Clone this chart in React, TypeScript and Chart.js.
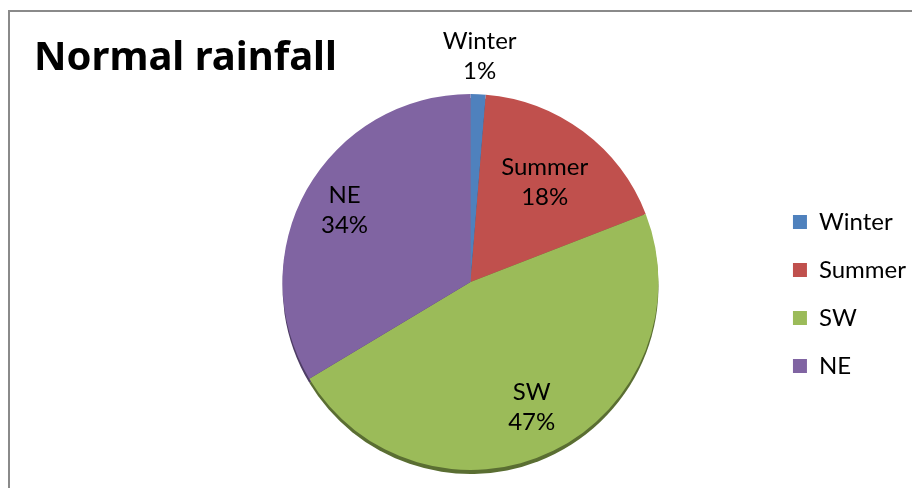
import React, { useEffect, useRef } from "react";
import { Chart, registerables } from "chart.js";

Chart.register(...registerables);

const TITLE = "Normal rainfall";
const categories = ["Winter", "Summer", "SW", "NE"];
const rainfallShare = [1.3, 17.8, 47.3, 33.6];
const sliceColors = ["#4F81BD", "#C0504D", "#9BBB59", "#8064A2"];
const shadowColors = ["#30507a", "#7a302e", "#5a6e32", "#4e3d65"];
const labelRadius = [1.2, 0.66, 0.74, 0.77];
const FONT = "Lato, 'Open Sans', sans-serif";
const TITLE_FONT = "'Noto Sans', 'Open Sans', sans-serif";

export default function App() {
  const ref = useRef<HTMLCanvasElement>(null);

  useEffect(() => {
    document.documentElement.style.overflow = "hidden";
    document.body.style.overflow = "hidden";
    const canvas = ref.current;
    if (!canvas) return;
    const total = rainfallShare.reduce((a, b) => a + b, 0);

    const shadowPlugin = {
      id: "pieShadow",
      beforeDatasetsDraw(chart: any) {
        const meta = chart.getDatasetMeta(0);
        const ctx = chart.ctx;
        ctx.save();
        meta.data.forEach((arc: any, i: number) => {
          const p = arc.getProps(["x", "y", "startAngle", "endAngle", "outerRadius"], true);
          ctx.beginPath();
          ctx.moveTo(p.x, p.y + 4);
          ctx.arc(p.x, p.y + 4, p.outerRadius, p.startAngle, p.endAngle);
          ctx.closePath();
          ctx.fillStyle = shadowColors[i];
          ctx.fill();
        });
        ctx.restore();
      },
    };

    const labelPlugin = {
      id: "sliceLabels",
      afterDatasetsDraw(chart: any) {
        const meta = chart.getDatasetMeta(0);
        const ctx = chart.ctx;
        ctx.save();
        ctx.font = `24px ${FONT}`;
        ctx.fillStyle = "#000";
        ctx.textAlign = "center";
        ctx.textBaseline = "middle";
        meta.data.forEach((arc: any, i: number) => {
          const p = arc.getProps(["x", "y", "startAngle", "endAngle", "outerRadius"], true);
          const mid = (p.startAngle + p.endAngle) / 2;
          const r = p.outerRadius * labelRadius[i];
          const px = p.x + Math.cos(mid) * r;
          const py = p.y + Math.sin(mid) * r;
          const pct = Math.round((rainfallShare[i] / total) * 100);
          ctx.fillText(categories[i], px, py - 15);
          ctx.fillText(`${pct}%`, px, py + 15);
        });
        ctx.restore();
      },
    };

    const titlePlugin = {
      id: "leftTitle",
      afterDraw(chart: any) {
        const ctx = chart.ctx;
        ctx.save();
        ctx.font = `bold 40px ${TITLE_FONT}`;
        ctx.fillStyle = "#000";
        ctx.textAlign = "left";
        ctx.textBaseline = "alphabetic";
        ctx.fillText(TITLE, 24, 58);
        ctx.restore();
      },
    };

    const chart = new Chart(canvas, {
      type: "pie",
      data: {
        labels: categories,
        datasets: [
          {
            data: rainfallShare,
            backgroundColor: sliceColors,
            borderWidth: 0,
            hoverOffset: 0,
          },
        ],
      },
      options: {
        responsive: false,
        maintainAspectRatio: false,
        animation: false,
        events: [],
        layout: { padding: { left: 162, top: 82, right: 4, bottom: 18 } },
        plugins: {
          tooltip: { enabled: false },
          title: { display: false },
          legend: {
            display: true,
            position: "right",
            fullSize: false,
            align: "center",
            title: { display: true, text: " ", font: { size: 20, lineHeight: 1.2 }, padding: 0 },
            labels: {
              boxWidth: 14,
              boxHeight: 14,
              padding: 24,
              color: "#000",
              font: { family: FONT, size: 24 },
            },
          },
        },
      },
      plugins: [shadowPlugin, labelPlugin, titlePlugin],
    });
    return () => chart.destroy();
  }, []);

  return (
    <div
      style={{
        marginTop: 2,
        width: 930,
        height: 490,
        border: "2px solid #8a8a8a",
        background: "#fff",
      }}
    >
      <canvas ref={ref} width={910} height={476} style={{ display: "block" }} />
    </div>
  );
}
